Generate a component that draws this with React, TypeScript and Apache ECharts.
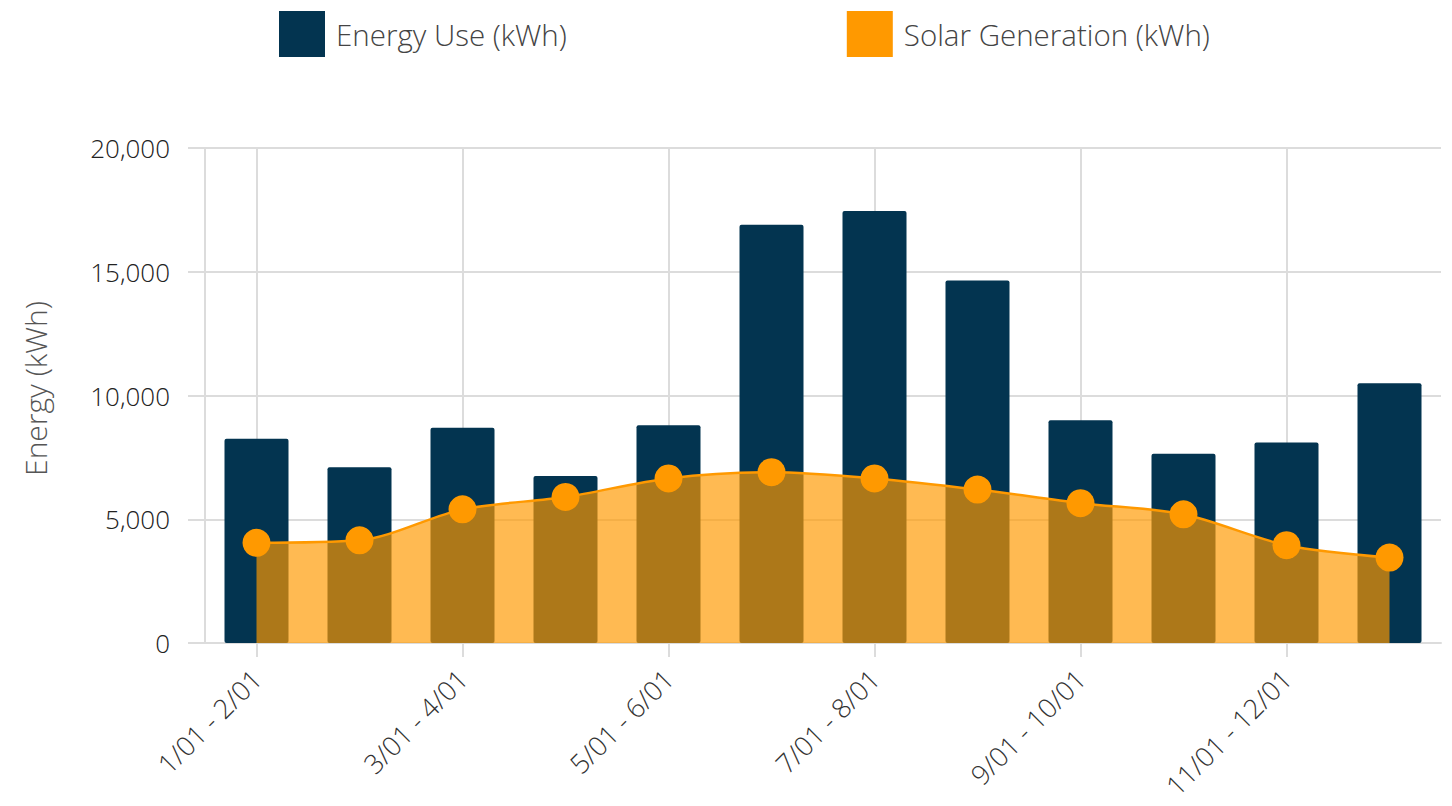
import React, { useEffect, useRef } from "react";
import * as echarts from "echarts";

const categories = [
  "1/01 - 2/01", "2/01 - 3/01", "3/01 - 4/01", "4/01 - 5/01",
  "5/01 - 6/01", "6/01 - 7/01", "7/01 - 8/01", "8/01 - 9/01",
  "9/01 - 10/01", "10/01 - 11/01", "11/01 - 12/01", "12/01 - 1/01",
];
const energyUse = [8250, 7100, 8700, 6750, 8800, 16900, 17450, 14650, 9000, 7650, 8100, 10500];
const solarGen = [4050, 4150, 5400, 5900, 6650, 6900, 6650, 6200, 5650, 5200, 3950, 3450];
const yTicks = { min: 0, max: 20000, interval: 5000 };

export default function App() {
  const ref = useRef<HTMLDivElement>(null);
  useEffect(() => {
    if (!ref.current) return;
    const chart = echarts.init(ref.current, undefined, { renderer: "svg" });
    const font = "'Open Sans', 'Noto Sans', sans-serif";
    chart.setOption({
      animation: false,
      textStyle: { fontFamily: font },
      legend: {
        left: 274,
        top: 6,
        itemWidth: 46,
        itemHeight: 46,
        itemGap: 280,
        icon: "rect",
        textStyle: { fontSize: 29.5, fontWeight: 300, color: "#444", fontFamily: font, padding: [0, 0, 0, 6] },
        data: ["Energy Use (kWh)", "Solar Generation (kWh)"],
      },
      grid: { left: 205, right: 11, top: 148, bottom: 163, containLabel: false, outerBoundsMode: "none" },
      xAxis: {
        type: "category",
        data: categories,
        boundaryGap: true,
        axisLine: { show: true, lineStyle: { color: "#dcdcdc", width: 2 } },
        axisTick: { show: true, alignWithLabel: true, interval: 1, length: 14, lineStyle: { color: "#dcdcdc", width: 2 } },
        splitLine: { show: true, alignWithLabel: true, interval: 1, lineStyle: { color: "#dcdcdc", width: 2 } },
        axisLabel: {
          interval: 1,
          rotate: 45,
          margin: 31,
          fontSize: 27,
          fontWeight: 300,
          color: "#333",
          fontFamily: font,
        },
      },
      yAxis: {
        type: "value",
        min: yTicks.min,
        max: yTicks.max,
        interval: yTicks.interval,
        name: "Energy (kWh)",
        nameLocation: "middle",
        nameGap: 155,
        nameTextStyle: { fontSize: 30, fontWeight: 300, color: "#555", fontFamily: font, padding: [0, 0, 0, 14] },
        axisLine: { show: true, lineStyle: { color: "#dcdcdc", width: 2 } },
        axisTick: { show: true, inside: false, length: 17, lineStyle: { color: "#dcdcdc", width: 2 } },
        splitLine: { show: true, lineStyle: { color: "#dcdcdc", width: 2 } },
        axisLabel: {
          margin: 35,
          fontSize: 26,
          fontWeight: 300,
          color: "#222",
          fontFamily: font,
          formatter: (v: number) => v.toLocaleString("en-US"),
        },
      },
      series: [
        {
          name: "Energy Use (kWh)",
          type: "bar",
          data: energyUse,
          barWidth: 64,
          itemStyle: { color: "#033450", borderRadius: 2 },
          z: 2,
        },
        {
          name: "Solar Generation (kWh)",
          type: "line",
          data: solarGen,
          smooth: 0.3,
          symbol: "circle",
          symbolSize: 28,
          showSymbol: true,
          lineStyle: { color: "#FF9900", width: 2.5 },
          itemStyle: { color: "#FF9900" },
          areaStyle: { color: "#FF9900", opacity: 0.68 },
          z: 3,
        },
      ],
    });
    return () => chart.dispose();
  }, []);
  return (
    <div
      ref={ref}
      style={{ position: "fixed", left: 0, top: 0, width: 1452, height: 806, background: "#fff" }}
    />
  );
}
